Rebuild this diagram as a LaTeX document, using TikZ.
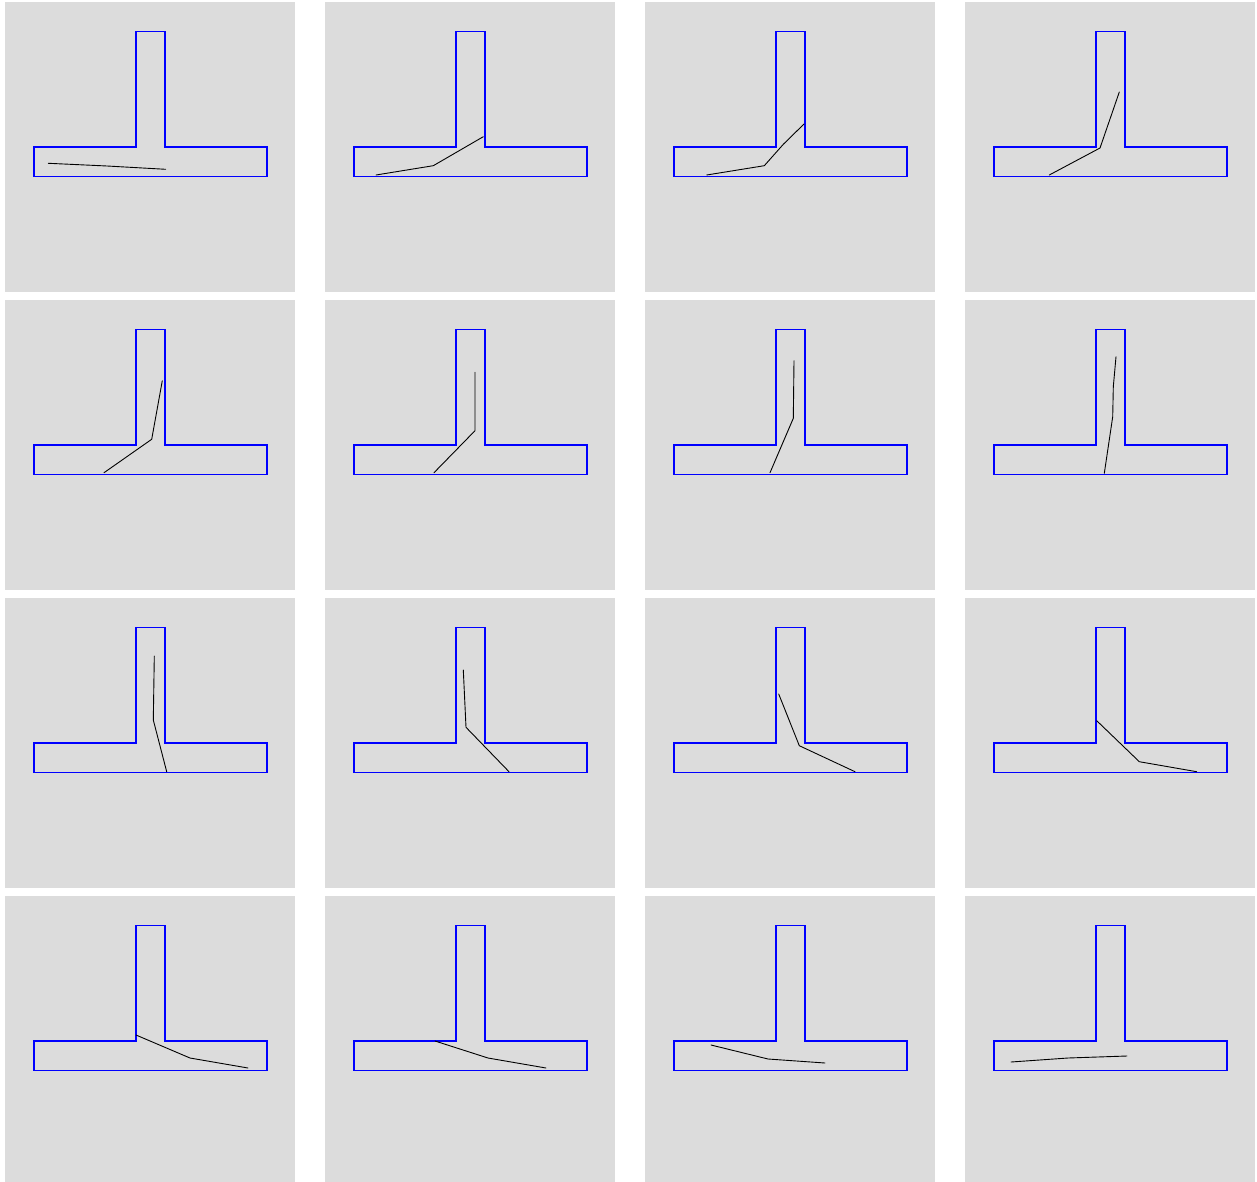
\documentclass[tikz,border=0pt]{standalone}
\definecolor{panelgray}{RGB}{220,220,220}
\definecolor{tblue}{RGB}{0,0,255}
\begin{document}
\begin{tikzpicture}[x=1pt,y=-1pt,
  outline/.style={draw=tblue,line width=1.5pt},
  crack/.style={draw=black,line width=0.9pt,line join=round,line cap=round}]
\useasboundingbox (0,0) rectangle (1257,1182);
\fill[white] (0,0) rectangle (1257,1182);
\foreach \ox in {5,325,645,965}{
  \foreach \oy in {2,300,598,896}{
    \begin{scope}[shift={(\ox,\oy)}]
      \fill[panelgray] (0,0) rectangle (290,290);
      \draw[outline] (29,145) -- (131,145) -- (131,29.5) -- (160,29.5)
        -- (160,145) -- (262,145) -- (262,174.5) -- (29,174.5) -- cycle;
    \end{scope}
  }
}
% row 1
\draw[crack] (48.3,163.3) -- (107,166) -- (165.7,169.3);
\draw[crack] (376,175) -- (433.3,165.7) -- (483.3,136.7);
\draw[crack] (706.7,175) -- (764.3,165.7) -- (783.3,144.3) -- (804,124);
\draw[crack] (1049.3,175) -- (1100,148) -- (1119.3,92);
% row 2
\draw[crack] (104,472.7) -- (151.7,439.3) -- (162.3,380.7);
\draw[crack] (434,472.7) -- (475,430.7) -- (475,372.3);
\draw[crack] (770,472.7) -- (793.3,418.3) -- (794,360.7);
\draw[crack] (1104.3,473.3) -- (1112.7,416.7) -- (1113.3,386.7) -- (1116,356.7);
% row 3
\draw[crack] (166.7,771.7) -- (153.3,720) -- (154.3,656);
\draw[crack] (509,771.7) -- (466,727.3) -- (463.3,670);
\draw[crack] (855,771.7) -- (799.3,745.7) -- (778.7,694);
\draw[crack] (1196.7,771.7) -- (1139.3,761.7) -- (1096.7,720.7);
% row 4
\draw[crack] (136,1035) -- (190,1058) -- (248,1068);
\draw[crack] (435,1041) -- (488,1058) -- (546,1068);
\draw[crack] (711,1045) -- (768,1059) -- (825,1063);
\draw[crack] (1011,1062) -- (1068,1058) -- (1127,1056);
\end{tikzpicture}
\end{document}
